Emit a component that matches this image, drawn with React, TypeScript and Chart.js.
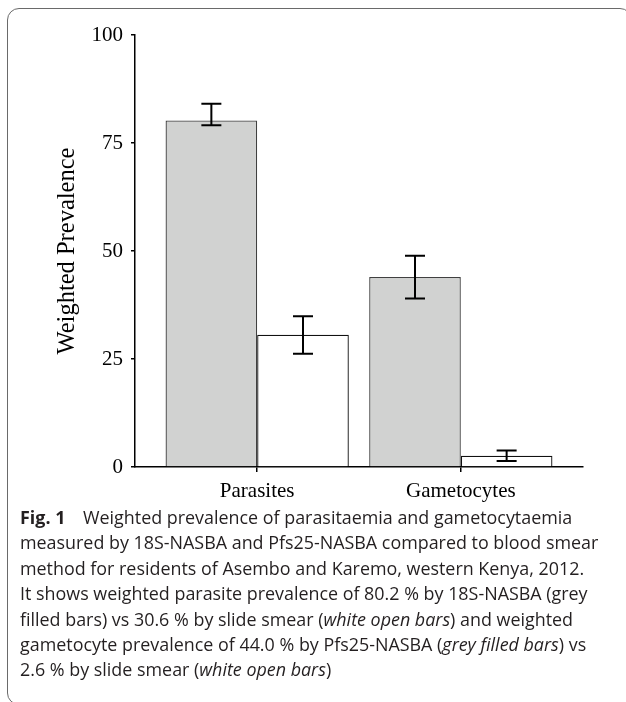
import React, { useEffect, useRef } from "react";
import { Chart, registerables } from "chart.js";

Chart.register(...registerables);

// ---- data ----
const categories = ["Parasites", "Gametocytes"];
const categoryPositions = [0, 1];
const nasbaValues = [80.2, 44.0];
const nasbaLower = [79.1, 39.0];
const nasbaUpper = [84.1, 48.9];
const smearValues = [30.6, 2.6];
const smearLower = [26.2, 1.4];
const smearUpper = [34.9, 3.8];
const yTicks = [0, 25, 50, 75, 100];
const yTitle = "Weighted Prevalence";

const CANVAS_W = 626;
const CANVAS_H = 510;
const SERIF = "'Liberation Serif', 'Times New Roman', serif";

const errorBarPlugin = {
  id: "errorBars",
  afterDatasetsDraw(chart: any) {
    const ctx = chart.ctx;
    const yScale = chart.scales.y;
    ctx.save();
    ctx.strokeStyle = "#000";
    ctx.lineWidth = 2;
    chart.data.datasets.forEach((ds: any, di: number) => {
      const meta = chart.getDatasetMeta(di);
      meta.data.forEach((bar: any, i: number) => {
        const x = bar.x;
        const yLo = yScale.getPixelForValue(ds.errLow[i]);
        const yHi = yScale.getPixelForValue(ds.errHigh[i]);
        const half = 10;
        ctx.beginPath();
        ctx.moveTo(x, yLo);
        ctx.lineTo(x, yHi);
        ctx.moveTo(x - half, yLo);
        ctx.lineTo(x + half, yLo);
        ctx.moveTo(x - half, yHi);
        ctx.lineTo(x + half, yHi);
        ctx.stroke();
      });
    });
    ctx.restore();
  },
};

function BarChart() {
  const ref = useRef<HTMLCanvasElement | null>(null);
  useEffect(() => {
    if (!ref.current) return;
    const chart = new Chart(ref.current, {
      type: "bar",
      data: {
        datasets: [
          {
            label: "NASBA",
            data: categoryPositions.map((x, i) => ({ x, y: nasbaValues[i] })),
            backgroundColor: "#d1d2d1",
            borderColor: "#404040",
            borderWidth: 1.3,
            categoryPercentage: 0.9,
            barPercentage: 1,
            errLow: nasbaLower,
            errHigh: nasbaUpper,
          } as any,
          {
            label: "Slide smear",
            data: categoryPositions.map((x, i) => ({ x, y: smearValues[i] })),
            backgroundColor: "#ffffff",
            borderColor: "#111111",
            borderWidth: 1.3,
            categoryPercentage: 0.9,
            barPercentage: 1,
            errLow: smearLower,
            errHigh: smearUpper,
          } as any,
        ],
      },
      options: {
        animation: false,
        responsive: false,
        maintainAspectRatio: false,
        layout: { padding: { top: 35, right: 43, left: 0, bottom: 0 } },
        plugins: {
          legend: { display: false },
          tooltip: { enabled: false },
        },
        scales: {
          x: {
            type: "linear",
            min: -0.6,
            max: 1.6,
            offset: false,
            afterBuildTicks: (s: any) => {
              s.ticks = categoryPositions.map((v) => ({ value: v }));
            },
            afterFit: (s: any) => {
              s.height = CANVAS_H - 467;
            },
            ticks: {
              callback: (v: any) => categories[v as number],
              font: { family: SERIF, size: 21 },
              color: "#000",
              padding: 7,
              maxRotation: 0,
              autoSkip: false,
            },
            grid: {
              display: true,
              drawOnChartArea: false,
              drawTicks: true,
              tickLength: 5,
              color: "#000",
              lineWidth: 1.5,
              offset: false,
            },
            border: { display: true, color: "#000", width: 1.5 },
          } as any,
          y: {
            min: 0,
            max: 100,
            afterBuildTicks: (s: any) => {
              s.ticks = yTicks.map((v) => ({ value: v }));
            },
            afterFit: (s: any) => {
              s.width = 135;
            },
            ticks: {
              font: { family: SERIF, size: 21 },
              color: "#000",
              padding: 8,
            },
            grid: {
              display: true,
              drawOnChartArea: false,
              drawTicks: true,
              tickLength: 4,
              color: "#000",
              lineWidth: 1.5,
            },
            border: { display: true, color: "#000", width: 1.5 },
            title: {
              display: true,
              text: yTitle,
              font: { family: SERIF, size: 24.5 },
              color: "#000",
              padding: { top: 53, bottom: 0 },
            },
          } as any,
        },
      },
      plugins: [errorBarPlugin],
    });
    return () => chart.destroy();
  }, []);
  return (
    <canvas
      ref={ref}
      width={CANVAS_W}
      height={CANVAS_H}
      style={{ position: "absolute", left: 0, top: 0, width: CANVAS_W, height: CANVAS_H }}
    />
  );
}

const captionStyle: React.CSSProperties = {
  position: "absolute",
  left: 20,
  top: 505,
  fontFamily: "'Open Sans', sans-serif",
  fontSize: 17.9,
  lineHeight: "25.4px",
  color: "#231f20",
  whiteSpace: "pre",
};

export default function App() {
  return (
    <div
      style={{
        position: "absolute",
        left: 0,
        top: 0,
        width: 626,
        height: 702,
        overflow: "hidden",
        background: "#fff",
      }}
    >
      <div
        style={{
          position: "absolute",
          left: 7,
          top: 8,
          width: 625,
          height: 697,
          border: "1.5px solid #6a6a6a",
          borderRadius: 12,
          boxSizing: "border-box",
        }}
      />
      <BarChart />
      <div style={captionStyle}>
        <div>
          <b style={{ paddingRight: 13 }}>Fig. 1</b> Weighted prevalence of parasitaemia and gametocytaemia
        </div>
        <div>measured by 18S-NASBA and Pfs25-NASBA compared to blood smear</div>
        <div>method for residents of Asembo and Karemo, western Kenya, 2012.</div>
        <div>It shows weighted parasite prevalence of 80.2 % by 18S-NASBA (grey</div>
        <div>
          filled bars) vs 30.6 % by slide smear (<i>white open bars</i>) and weighted
        </div>
        <div>
          gametocyte prevalence of 44.0 % by Pfs25-NASBA (<i>grey filled bars</i>) vs
        </div>
        <div>
          2.6 % by slide smear (<i>white open bars</i>)
        </div>
      </div>
    </div>
  );
}
